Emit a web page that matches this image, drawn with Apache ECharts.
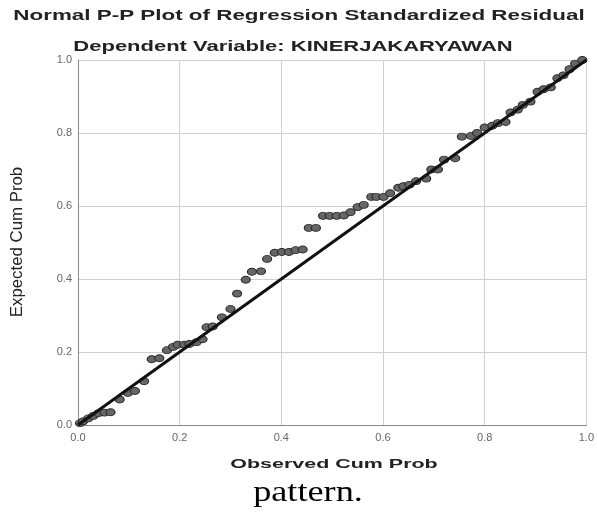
<!DOCTYPE html>
<html>
<head>
<meta charset="utf-8">
<style>
  html, body { margin: 0; padding: 0; background: #fff; }
  #chart { width: 597px; height: 515px; }
</style>
<script src="https://cdn.jsdelivr.net/npm/echarts@6/dist/echarts.min.js"></script>
</head>
<body>
<div id="chart"></div>
<script>
// observed cum prob (x) and expected cum prob (y)
const observed = [
  0.004, 0.010, 0.020, 0.030, 0.040, 0.052, 0.064, 0.082, 0.098, 0.112,
  0.130, 0.145, 0.160, 0.175, 0.187, 0.196, 0.209, 0.219, 0.233, 0.245,
  0.253, 0.265, 0.283, 0.300, 0.313, 0.330, 0.342, 0.360, 0.372, 0.387,
  0.401, 0.415, 0.428, 0.442, 0.454, 0.468, 0.482, 0.495, 0.509, 0.523,
  0.536, 0.550, 0.562, 0.577, 0.587, 0.601, 0.614, 0.630, 0.640, 0.652,
  0.665, 0.685, 0.695, 0.708, 0.720, 0.742, 0.755, 0.773, 0.785, 0.800,
  0.815, 0.826, 0.841, 0.851, 0.865, 0.875, 0.890, 0.904, 0.916, 0.930,
  0.943, 0.955, 0.967, 0.978, 0.992
];
const expected = [
  0.005, 0.010, 0.018, 0.025, 0.032, 0.034, 0.035, 0.070, 0.088, 0.093,
  0.120, 0.180, 0.183, 0.205, 0.214, 0.220, 0.220, 0.222, 0.227, 0.235,
  0.268, 0.270, 0.295, 0.318, 0.360, 0.398, 0.420, 0.421, 0.455, 0.472,
  0.474, 0.474, 0.479, 0.481, 0.540, 0.540, 0.573, 0.573, 0.573, 0.574,
  0.583, 0.597, 0.603, 0.625, 0.625, 0.625, 0.635, 0.650, 0.654, 0.658,
  0.668, 0.675, 0.700, 0.700, 0.727, 0.731, 0.790, 0.792, 0.800, 0.815,
  0.820, 0.827, 0.830, 0.856, 0.864, 0.877, 0.886, 0.913, 0.920, 0.925,
  0.950, 0.958, 0.975, 0.990, 1.000
];
const refLine = [[0, 0], [1, 1]];
const tickValues = [0, 0.2, 0.4, 0.6, 0.8, 1.0];

const points = observed.map(function (x, i) { return [x, expected[i]]; });

// the source picture is stretched sideways, so texts get a scaleX
function label(text, x, y, font, fill, scaleX, rotation) {
  return {
    type: 'text', x: x, y: y, scaleX: scaleX || 1, rotation: rotation || 0,
    style: { text: text, font: font, fill: fill, textAlign: 'center', textVerticalAlign: 'middle' }
  };
}

const chart = echarts.init(document.getElementById('chart'));
chart.setOption({
  animation: false,
  backgroundColor: '#fff',
  graphic: [
    label('Normal P-P Plot of Regression Standardized Residual', 299, 16,
      'bold 14px "Liberation Sans"', '#222', 1.6),
    label('Dependent Variable: KINERJAKARYAWAN', 293, 47,
      'bold 14px "Liberation Sans"', '#222', 1.57),
    label('Observed Cum Prob', 334, 464,
      'bold 13px "Liberation Sans"', '#222', 1.65),
    label('Expected Cum Prob', 18, 242,
      '16px "Liberation Sans"', '#222', 1.05, Math.PI / 2),
    label('pattern.', 308, 493,
      '29px "Liberation Serif"', '#000', 1.25)
  ],
  grid: { left: 78, right: 8, top: 60, bottom: 90, containLabel: false },
  xAxis: {
    type: 'value', min: 0, max: 1, interval: 0.2,
    axisLine: { lineStyle: { color: '#888', width: 1 } },
    axisTick: { show: false },
    axisLabel: {
      color: '#666', fontFamily: 'Liberation Sans', fontSize: 11, margin: 7,
      formatter: function (v) { return tickValues.indexOf(v) >= 0 ? v.toFixed(1) : ''; }
    },
    splitLine: { show: true, lineStyle: { color: '#d0d0d0', width: 1 } }
  },
  yAxis: {
    type: 'value', min: 0, max: 1, interval: 0.2,
    axisLine: { show: true, lineStyle: { color: '#888', width: 1 } },
    axisTick: { show: false },
    axisLabel: {
      color: '#666', fontFamily: 'Liberation Sans', fontSize: 11, margin: 6,
      formatter: function (v) { return tickValues.indexOf(v) >= 0 ? v.toFixed(1) : ''; }
    },
    splitLine: { show: true, lineStyle: { color: '#d0d0d0', width: 1 } }
  },
  series: [
    {
      type: 'scatter',
      data: points,
      symbol: 'circle',
      symbolSize: [9, 7],
      itemStyle: { color: '#666', borderColor: '#2a2a2a', borderWidth: 1, opacity: 1 },
      z: 2
    },
    {
      type: 'line',
      data: refLine,
      symbol: 'none',
      lineStyle: { color: '#111', width: 3 },
      z: 3
    }
  ]
});
</script>
</body>
</html>
